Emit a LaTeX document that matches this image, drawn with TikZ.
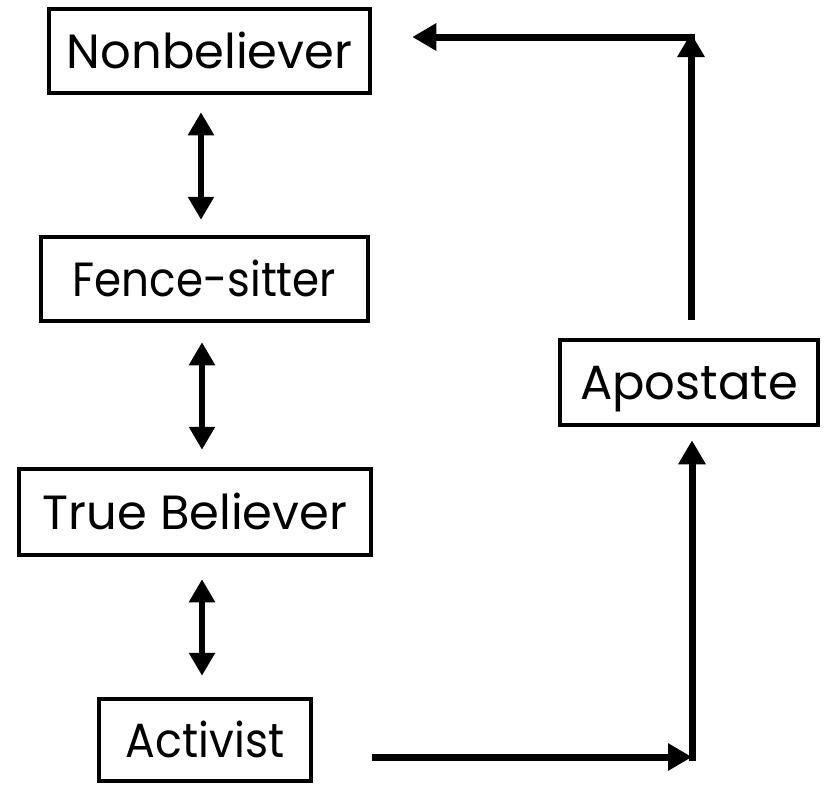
\documentclass[tikz,border=0pt]{standalone}
\usepackage{fontspec}
\setmainfont{Poppins}
\usetikzlibrary{arrows.meta}
\begin{document}
\begin{tikzpicture}[x=1pt,y=-1pt,
  stage/.style={draw=black, line width=4.5pt, inner sep=0pt, text height=34pt, text depth=0pt, font=\fontsize{48}{52}\selectfont},
  dbl/.style={line width=5.5pt, {Triangle[width=25pt,length=23pt]}-{Triangle[width=25pt,length=23pt]}},
  flow/.style={line width=7pt, -{Triangle[width=26pt,length=24pt]}}]
\useasboundingbox (0,0) rectangle (827,787);
\node[stage, minimum width=321pt, minimum height=84pt] (nb) at (209.5,51) {Nonbeliever};
\node[stage, minimum width=327pt, minimum height=84pt] (fs) at (204.5,279) {\scalebox{0.91}[1]{Fence-sitter}};
\node[stage, minimum width=352pt, minimum height=86pt] (tb) at (195,512) {True Believer};
\node[stage, minimum width=212pt, minimum height=82pt] (ac) at (205,740) {\scalebox{0.92}[1]{Activist}};
\node[stage, minimum width=258pt, minimum height=85pt] (ap) at (689,382.5) {Apostate};
\coordinate (x1) at (201,0);
\coordinate (x2) at (202,0);
\coordinate (cb) at (692,757);
\coordinate (ct) at (691,37);
\draw[dbl, shorten <=17pt, shorten >=15pt] (x1 |- nb.south) -- (x1 |- fs.north);
\draw[dbl, shorten <=19pt, shorten >=17pt] (x2 |- fs.south) -- (x2 |- tb.north);
\draw[dbl, shorten <=22pt, shorten >=21pt] (x2 |- tb.south) -- (x2 |- ac.north);
\draw[flow, shorten <=59pt] (ac.east |- cb) -- (cb);
\draw[flow, shorten <=-3.5pt, shorten >=13pt] (cb) -- (cb |- ap.south);
\draw[flow, shorten <=18pt, shorten >=-4pt] (ct |- ap.north) -- (ct);
\draw[flow, shorten <=-3.5pt, shorten >=40pt] (ct) -- (nb.east |- ct);
\end{tikzpicture}
\end{document}
